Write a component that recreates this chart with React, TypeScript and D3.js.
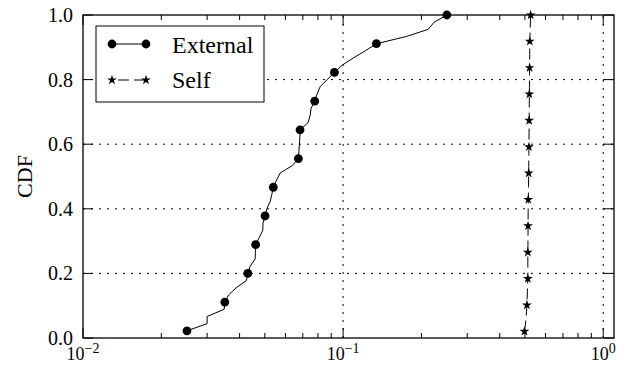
import React from "react";
import * as d3 from "d3";

// CDF sample values (x = fraction, log scale)
const externalValues = [
  0.0251, 0.03, 0.03, 0.0349, 0.0351, 0.0363, 0.0388, 0.0425, 0.043, 0.0439,
  0.0459, 0.046, 0.0461, 0.0476, 0.0491, 0.0492, 0.0501, 0.0509, 0.0524,
  0.0532, 0.0539, 0.0555, 0.0573, 0.0637, 0.0673, 0.0676, 0.0679, 0.0682,
  0.0683, 0.0733, 0.0747, 0.0753, 0.0778, 0.0794, 0.0816, 0.0868, 0.0926,
  0.0991, 0.1093, 0.1215, 0.1343, 0.1747, 0.2123, 0.2239, 0.2505,
];

const selfValues = [
  0.498, 0.502, 0.505, 0.507, 0.509, 0.51, 0.511, 0.512, 0.513, 0.513, 0.513,
  0.513, 0.513, 0.5135, 0.5135, 0.514, 0.514, 0.5142, 0.5144, 0.5146, 0.515,
  0.5155, 0.516, 0.5165, 0.517, 0.5172, 0.5175, 0.5178, 0.518, 0.5183,
  0.5186, 0.5188, 0.519, 0.5193, 0.5196, 0.5198, 0.52, 0.5203, 0.5206,
  0.5208, 0.521, 0.5213, 0.5216, 0.5218, 0.522, 0.523, 0.524, 0.525, 0.526,
];

const yTicks = [0, 0.2, 0.4, 0.6, 0.8, 1.0];
const xMajorTicks = [0.01, 0.1, 1];
const xTickExponents = ["−2", "−1", "0"];
const seriesNames = ["External", "Self"];
const markEvery = 4;

const width = 628;
const height = 369;
const margin = { top: 15, right: 14, bottom: 31, left: 83 };
const font = "Liberation Serif, Times New Roman, serif";

const toCdf = (vals: number[]) =>
  vals.map((v, i) => ({ x: v, y: (i + 1) / vals.length, i }));

export default function App() {
  const x = d3
    .scaleLog()
    .domain([0.01, 1.1])
    .range([margin.left, width - margin.right]);
  const y = d3
    .scaleLinear()
    .domain([0, 1])
    .range([height - margin.bottom, margin.top]);

  const x0 = margin.left;
  const x1 = width - margin.right;
  const y0 = height - margin.bottom;
  const y1 = margin.top;

  const external = toCdf(externalValues);
  const self = toCdf(selfValues);

  const line = d3
    .line<{ x: number; y: number }>()
    .x((d) => x(d.x))
    .y((d) => y(d.y));

  const star = d3.symbol(d3.symbolStar, 30)();

  // minor log ticks 2..9 per decade inside domain
  const minorTicks: number[] = [];
  [0.01, 0.1, 1].forEach((base) => {
    for (let k = 2; k <= 9; k++) {
      const v = base * k;
      if (v < 1.1) minorTicks.push(v);
    }
  });

  const markers = (pts: { i: number }[]) =>
    pts.filter((d) => d.i % markEvery === 0);

  return (
    <svg
      width={width}
      height={height}
      style={{ position: "absolute", left: 0, top: 0, background: "#fff" }}
      fontFamily={font}
    >
      <rect width={width} height={height} fill="#fff" />

      {/* grid */}
      <g stroke="#000" strokeWidth={1} strokeDasharray="2,6">
        {yTicks.slice(1, -1).map((t) => (
          <line key={"gy" + t} x1={x0} x2={x1} y1={y(t)} y2={y(t)} />
        ))}
        {xMajorTicks.slice(1).map((t) => (
          <line key={"gx" + t} x1={x(t)} x2={x(t)} y1={y0} y2={y1} />
        ))}
      </g>

      {/* series */}
      <path d={line(external) || ""} fill="none" stroke="#000" strokeWidth={1} />
      {markers(external).map((d) => (
        <circle key={"e" + d.i} cx={x(d.x)} cy={y(d.y)} r={4.4} fill="#000" />
      ))}
      <path
        d={line(self) || ""}
        fill="none"
        stroke="#000"
        strokeWidth={1}
        strokeDasharray="11,5"
      />
      {markers(self).map((d) => (
        <path
          key={"s" + d.i}
          d={star || ""}
          transform={`translate(${x(d.x)},${y(d.y)})`}
          fill="#000"
        />
      ))}

      {/* ticks */}
      <g stroke="#000" strokeWidth={1}>
        {yTicks.map((t) => (
          <g key={"ty" + t}>
            <line x1={x0} x2={x0 + 10} y1={y(t)} y2={y(t)} />
            <line x1={x1} x2={x1 - 10} y1={y(t)} y2={y(t)} />
          </g>
        ))}
        {xMajorTicks.map((t) => (
          <g key={"tx" + t}>
            <line x1={x(t)} x2={x(t)} y1={y0} y2={y0 - 10} />
            <line x1={x(t)} x2={x(t)} y1={y1} y2={y1 + 10} />
          </g>
        ))}
        {minorTicks.map((t) => (
          <g key={"tm" + t}>
            <line x1={x(t)} x2={x(t)} y1={y0} y2={y0 - 5} />
            <line x1={x(t)} x2={x(t)} y1={y1} y2={y1 + 5} />
          </g>
        ))}
      </g>

      {/* frame */}
      <rect
        x={x0}
        y={y1}
        width={x1 - x0}
        height={y0 - y1}
        fill="none"
        stroke="#000"
        strokeWidth={1.3}
      />

      {/* tick labels */}
      {yTicks.map((t) => (
        <text
          key={"ly" + t}
          x={x0 - 10}
          y={y(t)}
          dy="0.35em"
          textAnchor="end"
          fontSize={20}
        >
          {t.toFixed(1)}
        </text>
      ))}
      {xMajorTicks.map((t, k) => (
        <text
          key={"lx" + t}
          x={x(t)}
          y={360}
          textAnchor="middle"
          fontSize={18}
        >
          10
          <tspan dy={-7} fontSize={14}>
            {xTickExponents[k]}
          </tspan>
        </text>
      ))}

      <text
        transform={`translate(32,${(y0 + y1) / 2}) rotate(-90)`}
        textAnchor="middle"
        fontSize={22}
      >
        CDF
      </text>

      {/* legend */}
      <g>
        <rect
          x={96}
          y={26}
          width={168}
          height={76}
          fill="#fff"
          stroke="#000"
          strokeWidth={1}
        />
        <line x1={112} x2={146} y1={44} y2={44} stroke="#000" strokeWidth={1} />
        <circle cx={112} cy={44} r={4.4} fill="#000" />
        <circle cx={146} cy={44} r={4.4} fill="#000" />
        <text x={172} y={53} fontSize={24}>
          {seriesNames[0]}
        </text>
        <line
          x1={112}
          x2={146}
          y1={80}
          y2={80}
          stroke="#000"
          strokeWidth={1}
          strokeDasharray="11,5"
          strokeDashoffset={-6}
        />
        <path d={star || ""} transform="translate(112,80)" fill="#000" />
        <path d={star || ""} transform="translate(146,80)" fill="#000" />
        <text x={172} y={88} fontSize={24}>
          {seriesNames[1]}
        </text>
      </g>
    </svg>
  );
}
